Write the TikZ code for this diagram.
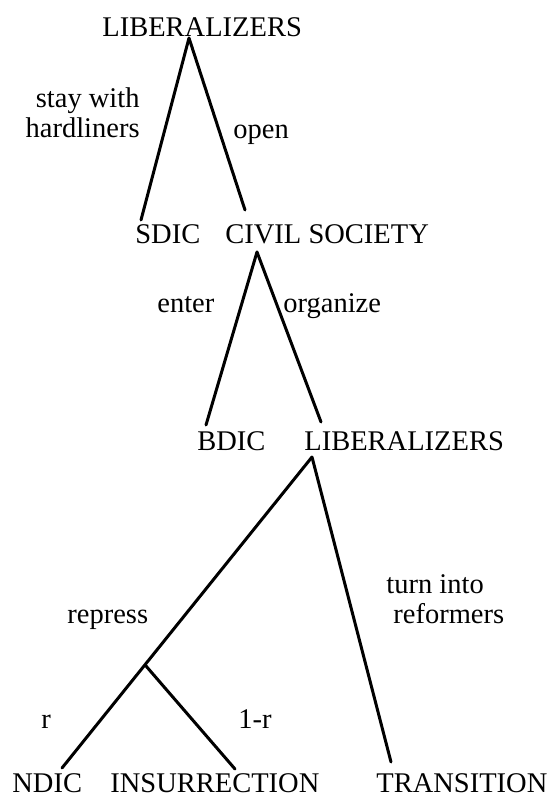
\documentclass[tikz,border=0pt]{standalone}
\usepackage{fontspec}
\setmainfont{Liberation Serif}
\usepackage{tikz}
\usetikzlibrary{positioning}

\newcommand{\treefont}{\fontsize{14.25}{15}\selectfont}

\begin{document}
\begin{tikzpicture}[
    x=0.5pt, y=-0.5pt,
    every node/.style={inner sep=0pt, font=\treefont},
    player/.style={anchor=base west},
    move/.style={anchor=base west},
    br/.style={line width=1.5pt, line cap=round},
]
    \useasboundingbox (0,0) rectangle (551,798);

    % decision nodes
    \node[player] (lib1) at (102,36) {LIBERALIZERS};
    \node[player] (sdic) at (135,243) {SDIC};
    \node[player] (civ)  at (225,243) {CIVIL SOCIETY};
    \node[player] (bdic) at (197,450) {BDIC};
    \node[player] (lib2) at (304,450) {LIBERALIZERS};
    \node[player] (ndic) at (12,792)  {NDIC};
    \node[player] (ins)  at (110,792) {INSURRECTION};
    \node[player] (tra)  at (376,792) {TRANSITION};

    % branch points
    \coordinate (v1) at (189,38);
    \coordinate (v1l) at (141,220);
    \coordinate (v1r) at (245,210);
    \coordinate (v2) at (257,252);
    \coordinate (v2l) at (206,425);
    \coordinate (v2r) at (321,422);
    \coordinate (v3) at (312,457);
    \coordinate (v3l) at (62,768);
    \coordinate (v3r) at (391,762);
    \coordinate (v4) at (146,666);
    \coordinate (v4r) at (235,769);

    % moves
    \node[anchor=base east, align=right] (stay) at (140,137) {stay with\\hardliners};
    \node[move] (open) at (233,138) {open};
    \node[move] (enter) at (157,312) {enter};
    \node[move] (org) at (283,312) {organize};
    \node[move] (rep) at (67,623) {repress};
    \node[move, align=left] (turn) at (386,623) {turn into\\\hspace*{3.5pt}reformers};
    \node[move] (r) at (41,728) {r};
    \node[move] (r1) at (238,728) {1-r};

    \draw[br] (v1) -- (v1l);
    \draw[br] (v1) -- (v1r);
    \draw[br] (v2) -- (v2l);
    \draw[br] (v2) -- (v2r);
    \draw[br] (v3) -- (v3l);
    \draw[br] (v3) -- (v3r);
    \draw[br] (v4) -- (v4r);
\end{tikzpicture}
\end{document}
